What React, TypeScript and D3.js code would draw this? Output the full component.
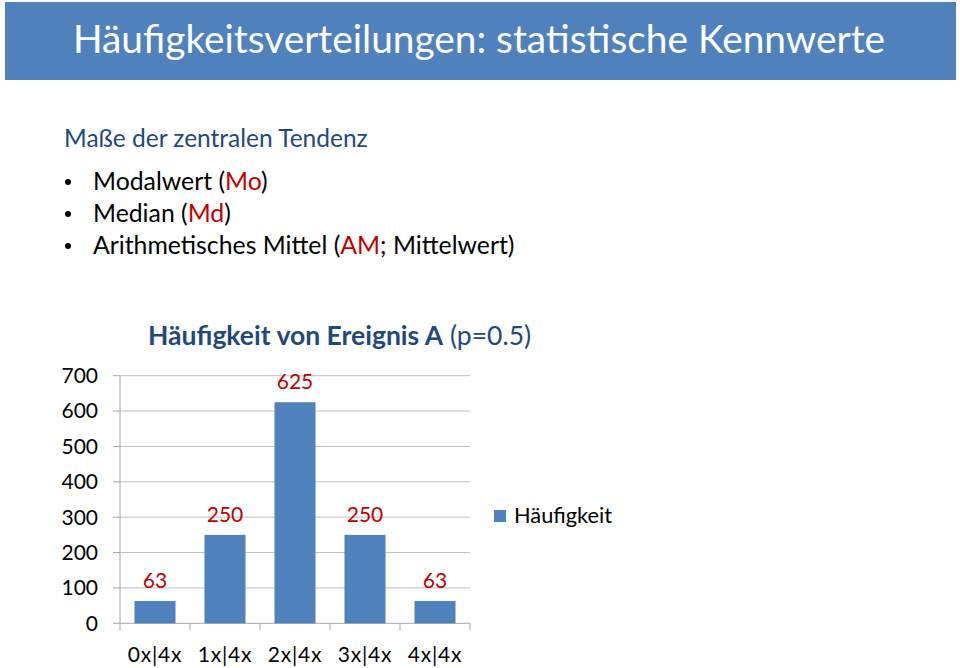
import React from "react";
import * as d3 from "d3";

const categories = ["0x|4x", "1x|4x", "2x|4x", "3x|4x", "4x|4x"];
const values = [63, 250, 625, 250, 63];
const yTicks = [0, 100, 200, 300, 400, 500, 600, 700];
const seriesName = "Häufigkeit";
const bullets = [
  { pre: "Modalwert (", red: "Mo", post: ")" },
  { pre: "Median (", red: "Md", post: ")" },
  { pre: "Arithmetisches Mittel (", red: "AM", post: "; Mittelwert)" },
];

const FONT = "Lato, 'Open Sans', sans-serif";
const BLUE = "#4F81BD";
const DARK = "#1F497D";
const RED = "#C00000";

export default function App() {
  const left = 120, right = 470, top = 375.7, bottom = 623.3;
  const x = d3.scaleBand<string>().domain(categories).range([left, right]).paddingInner(0.414).paddingOuter(0.207);
  const y = d3.scaleLinear().domain([0, 700]).range([bottom, top]);
  const step = x.step();
  return (
    <svg width={960} height={668} style={{ position: "absolute", left: 0, top: 0 }} fontFamily={FONT}>
      <rect x={5} y={2} width={951} height={78} fill={BLUE} />
      <text x={73} y={53} fill="#fff" fontSize={38} textLength={812} lengthAdjust="spacingAndGlyphs">
        Häufigkeitsverteilungen: statistische Kennwerte
      </text>
      <text x={64} y={147} fill={DARK} fontSize={24.5}>Maße der zentralen Tendenz</text>
      {bullets.map((b, i) => (
        <g key={i}>
          <circle cx={68} cy={182 + i * 32} r={3} fill="#000" />
          <text x={93} y={190 + i * 32} fontSize={24.8} fill="#000">
            {b.pre}<tspan fill={RED}>{b.red}</tspan>{b.post}
          </text>
        </g>
      ))}
      <text x={148} y={345} fontSize={26.5} fill={DARK}>
        <tspan fontWeight="bold">Häufigkeit von Ereignis A</tspan> (p=0.5)
      </text>
      {yTicks.map((t) => (
        <g key={t}>
          {t > 0 && <line x1={left} x2={right} y1={y(t)} y2={y(t)} stroke="#BFBFBF" strokeWidth={1} />}
          <line x1={113} x2={left} y1={y(t)} y2={y(t)} stroke="#A6A6A6" />
          <text x={98} y={y(t)} dy="0.35em" textAnchor="end" fontSize={21} fill="#000">{t}</text>
        </g>
      ))}
      <line x1={left} x2={left} y1={top} y2={bottom} stroke="#A6A6A6" />
      <line x1={left} x2={right} y1={bottom} y2={bottom} stroke="#A6A6A6" />
      {d3.range(categories.length + 1).map((i) => (
        <line key={i} x1={left + i * step} x2={left + i * step} y1={bottom} y2={bottom + 7} stroke="#A6A6A6" />
      ))}
      {categories.map((c, i) => (
        <g key={c}>
          <rect x={x(c)} y={y(values[i])} width={x.bandwidth()} height={bottom - y(values[i])} fill={BLUE} />
          <text x={(x(c) as number) + x.bandwidth() / 2} y={y(values[i]) - 13} textAnchor="middle" fontSize={21} fill={RED}>{values[i]}</text>
          <text x={(x(c) as number) + x.bandwidth() / 2} y={662} textAnchor="middle" fontSize={21} letterSpacing={0.8} fill="#000">{c}</text>
        </g>
      ))}
      <rect x={494} y={510} width={12} height={12} fill={BLUE} />
      <text x={514} y={523} fontSize={21.8} fill="#000">{seriesName}</text>
    </svg>
  );
}
